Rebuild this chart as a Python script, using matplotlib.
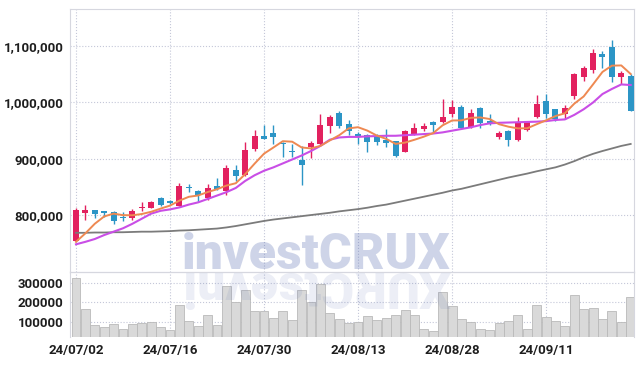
import matplotlib.pyplot as plt
import numpy as np
from matplotlib import font_manager
from matplotlib.ticker import FuncFormatter

# x tick labels (trading-day index every 10 sessions)
tick_pos = [0, 10, 20, 30, 40, 50]
tick_labels = ['24/07/02', '24/07/16', '24/07/30', '24/08/13', '24/08/28', '24/09/11']

# daily prices in thousands of won
opens = [755.0, 804.7, 808.8, 807.6, 805.9, 797.0, 795.8, 812.9, 812.9, 830.7,
         825.4, 817.1, 850.2, 843.1, 831.3, 851.9, 843.7, 880.3, 872.0, 917.6,
         941.2, 946.5, 928.8, 912.8, 898.0, 920.5, 926.4, 958.9, 982.0, 961.3,
         944.1, 942.4, 940.6, 934.1, 931.7, 912.8, 944.1, 953.0, 965.4, 965.4,
         979.0, 992.0, 956.0, 990.2, 966.6, 939.4, 949.5, 932.9, 951.2, 973.7,
         1002.7, 987.9, 980.2, 1012.1, 1045.8, 1058.2, 1086.0, 1098.4, 1045.8, 1047.0]
highs = [813.5, 817.7, 809.5, 808.5, 807.6, 805.9, 811.8, 823.6, 824.8, 831.9,
         827.0, 857.9, 854.9, 844.9, 856.1, 865.5, 889.8, 889.8, 929.4, 951.2,
         959.5, 960.1, 929.5, 926.4, 922.9, 932.3, 979.6, 977.8, 985.5, 969.0,
         948.3, 943.5, 944.0, 953.6, 932.5, 950.5, 964.2, 964.2, 966.5, 1005.6,
         1004.4, 995.6, 987.9, 992.0, 979.0, 950.1, 950.6, 973.7, 967.8, 1012.7,
         1015.1, 988.5, 996.1, 1051.5, 1065.3, 1095.4, 1090.7, 1110.2, 1055.8, 1049.9]
lows = [754.0, 791.7, 794.6, 797.6, 784.6, 790.5, 791.7, 807.0, 812.3, 816.6,
        820.5, 816.5, 841.9, 823.0, 827.7, 844.9, 836.0, 861.4, 870.5, 914.0,
        934.5, 926.4, 904.0, 904.0, 853.1, 901.6, 925.5, 945.3, 955.5, 943.0,
        926.4, 912.2, 924.1, 921.7, 902.8, 911.8, 942.0, 949.5, 946.5, 964.5,
        974.9, 954.5, 955.0, 954.2, 960.0, 934.7, 922.9, 931.2, 950.1, 972.5,
        971.9, 967.2, 970.2, 1006.8, 1038.1, 1051.7, 1060.6, 1035.8, 1032.2, 984.5]
closes = [809.4, 808.8, 802.9, 803.5, 790.5, 795.8, 807.6, 814.1, 823.6, 818.3,
          822.4, 851.4, 848.4, 835.4, 848.4, 847.2, 883.9, 869.7, 915.8, 941.2,
          935.9, 938.2, 925.8, 911.6, 889.8, 927.6, 960.7, 973.7, 958.3, 950.1,
          938.2, 930.0, 930.5, 928.8, 905.7, 949.5, 954.8, 958.3, 960.7, 974.9,
          992.0, 955.4, 980.8, 964.2, 961.3, 945.9, 933.5, 965.4, 965.4, 997.3,
          980.2, 971.3, 990.2, 1050.5, 1061.2, 1087.8, 1081.3, 1045.8, 1052.3, 985.5]

# moving averages as shown on the chart (thousands)
ma5 = [753, 768, 785, 798, 803.0, 800.3, 800.1, 802.3, 806.3, 811.9,
       817.2, 826.0, 832.8, 835.2, 841.2, 846.2, 852.7, 856.9, 873.0, 891.6,
       909.3, 920.2, 931.4, 930.5, 920.3, 918.6, 923.1, 932.7, 942.0, 954.1,
       956.2, 950.1, 941.4, 935.5, 926.6, 928.9, 933.9, 939.4, 945.8, 959.6,
       968.1, 968.3, 972.8, 973.5, 970.7, 961.5, 957.1, 954.1, 954.3, 961.5,
       968.4, 975.9, 980.9, 997.9, 1010.7, 1032.2, 1054.2, 1065.3, 1065.7, 1050.5]
ma20 = [748.6, 753, 758, 765, 771, 777, 785, 794, 803, 808,
        810.5, 814, 819, 823, 829, 835, 841, 848.5, 861, 871,
        879, 885, 892, 899, 906, 914, 923, 934, 938, 939,
        939, 940, 940.5, 941, 941, 942, 943, 944, 945, 947,
        950, 953, 956, 960, 963, 964, 964.5, 965, 965.5, 966,
        967, 969, 970, 978, 988, 1000, 1015, 1024, 1032, 1031]
ma60 = [769, 769, 769.5, 769.5, 770, 770, 770.5, 771, 771, 771.5,
        772, 773, 773.5, 774.5, 775.5, 776.5, 778.5, 781, 784, 787,
        790, 792.5, 794.5, 796.5, 798.5, 800.5, 802.5, 804.5, 807, 809,
        811, 813.5, 816.5, 819, 822.5, 826, 829.5, 833, 836.5, 840,
        844, 847, 851, 855, 859, 863, 867, 870.5, 874, 878,
        881.5, 885, 890, 896, 903, 909, 914, 918.5, 923, 926.5]

# volume in thousands of shares
volumes = [322, 164, 83, 73, 88, 63, 90, 93, 98, 73,
           58, 185, 105, 78, 136, 83, 281, 200, 261, 156,
           156, 119, 156, 108, 261, 200, 293, 144, 114, 93,
           100, 129, 108, 119, 136, 159, 134, 63, 53, 251,
           181, 114, 98, 63, 58, 93, 103, 134, 63, 185,
           124, 103, 78, 236, 164, 169, 114, 154, 100, 225]

o = np.array(opens) * 1000
h = np.array(highs) * 1000
l = np.array(lows) * 1000
c = np.array(closes) * 1000
vol = np.array(volumes) * 1000
x = np.arange(len(o))

UP = '#e2215f'
DOWN = '#2c95c6'
GRID = '#c4c7d8'
SPINE = '#d6d7df'

tick_font = font_manager.FontProperties(family='Roboto', weight='bold', size=9.5)

fig = plt.figure(figsize=(6.44, 3.66), dpi=100)
ax = fig.add_axes([0.1092, 0.2568, 0.8745, 0.7178])
axv = fig.add_axes([0.1092, 0.0792, 0.8745, 0.1776], sharex=ax)

# candles
cols = np.where(c >= o, UP, DOWN)
ax.vlines(x, l, h, colors=cols, lw=1.0, zorder=3)
ax.bar(x, np.maximum(np.abs(c - o), 1800), bottom=np.minimum(o, c),
       width=0.64, color=cols, zorder=4)

# moving averages
ax.plot(x, np.array(ma60) * 1000, color='#7b7b7b', lw=1.3, zorder=5)
ax.plot(x, np.array(ma20) * 1000, color='#c94ee6', lw=1.5, zorder=5)
ax.plot(x, np.array(ma5) * 1000, color='#ee8952', lw=1.4, zorder=6)

ax.set_xlim(-0.6, 59.3)
ax.set_ylim(699500, 1165200)
ax.set_yticks([800000, 900000, 1000000, 1100000])
ax.yaxis.set_major_formatter(FuncFormatter(lambda v, p: f'{v:,.0f}'))
ax.set_xticks(tick_pos)
ax.tick_params(length=0, pad=5, labelbottom=False, labelcolor='#1e1e1e')
ax.grid(True, ls=':', color=GRID, lw=0.8)

# volume
axv.bar(x, vol, width=0.95, color='#d9d9d9', edgecolor='#b9b9b9', lw=0.6, zorder=3)
axv.set_ylim(23700, 354500)
axv.set_yticks([100000, 200000, 300000])
axv.set_xticks(tick_pos)
axv.set_xticklabels(tick_labels)
axv.tick_params(length=0, pad=5, labelcolor='#1e1e1e')
axv.grid(True, ls=':', color=GRID, lw=0.8)

for a in (ax, axv):
    a.set_facecolor('none')
    for s in a.spines.values():
        s.set_color(SPINE)
    for t in a.get_xticklabels() + a.get_yticklabels():
        t.set_fontproperties(tick_font)
axv.spines['bottom'].set_visible(False)

# watermark and its faint reflection
fig.text(0.4915, 0.2658, 'investCRUX', ha='center', va='baseline',
         family='Roboto', weight='black', fontsize=36,
         color='#5f73b5', alpha=0.3, zorder=10)
fig.text(0.4915, 0.2590, 'investCRUX'[::-1], ha='center', va='baseline',
         rotation=180, rotation_mode='anchor',
         family='Roboto', weight='black', fontsize=36,
         color='#5f73b5', alpha=0.12, zorder=10)

plt.savefig('out.png', dpi=100)
